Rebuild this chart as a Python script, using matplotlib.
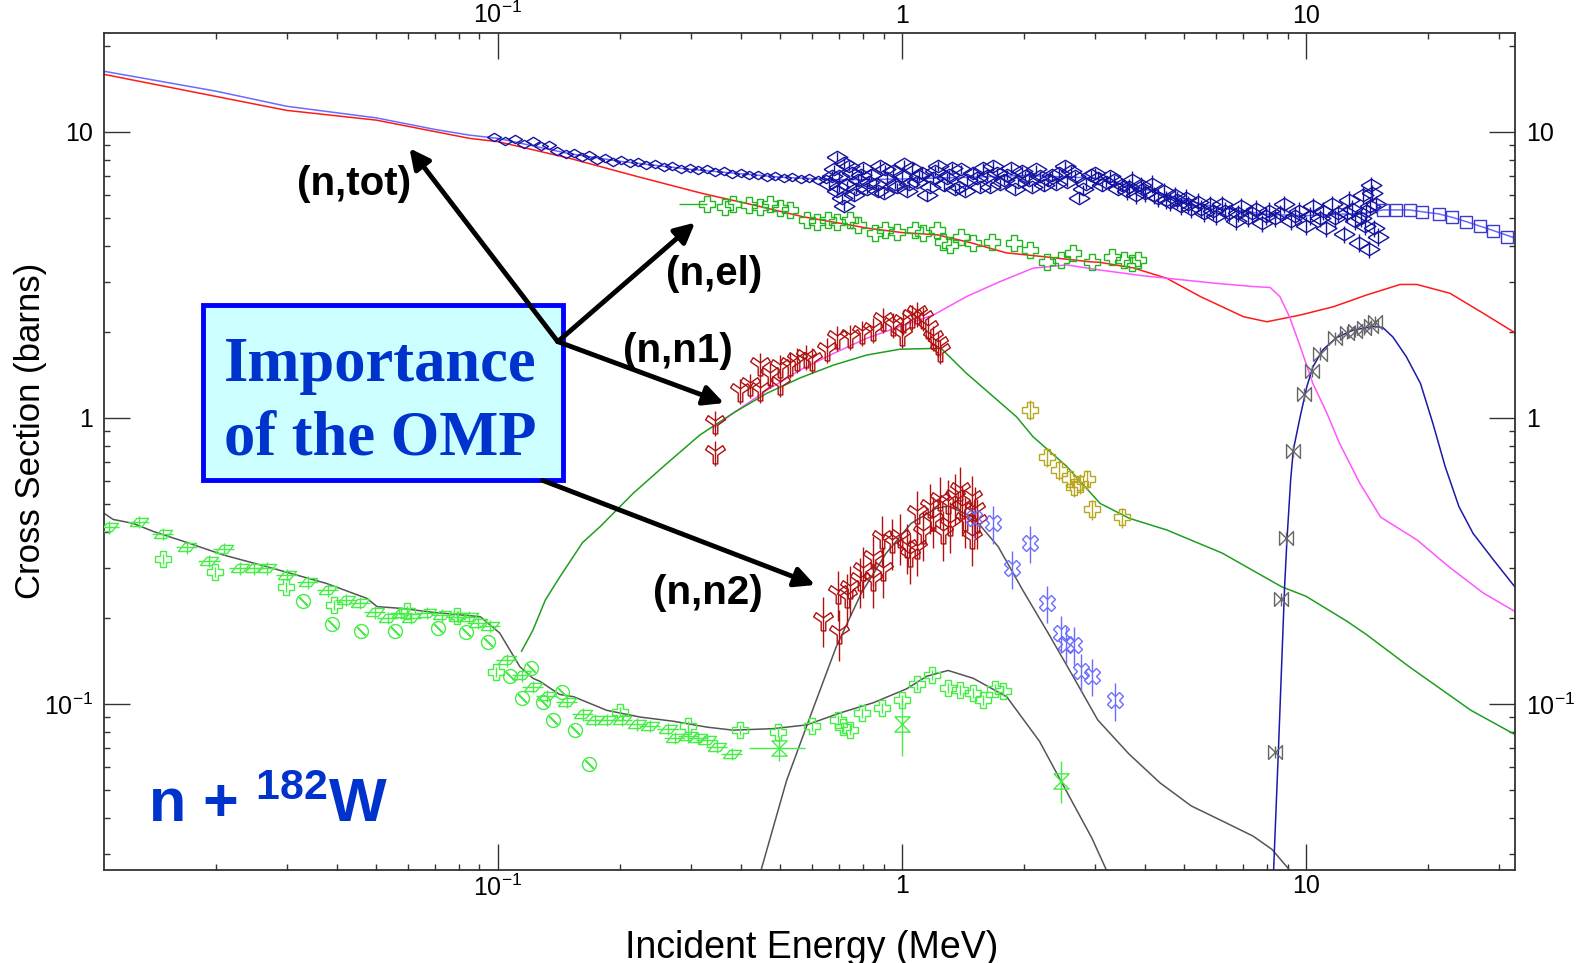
import sys
import numpy as np
import matplotlib
matplotlib.use("Agg")
import matplotlib.pyplot as plt
from matplotlib.patches import Rectangle
from matplotlib.ticker import FixedLocator, LogLocator, NullFormatter, FuncFormatter

# *** Data: energies in MeV, cross sections in barns ***

# evaluated curves
tot_line_e = [0.0106, 0.02, 0.03, 0.05, 0.07, 0.085, 0.1, 0.15, 0.2, 0.3, 0.5, 0.7, 1.0, 1.5, 2.0, 3.0,
              4.0, 5.0, 6.0, 8.0, 10.0, 14.0, 15.5, 18.0, 19.4, 21.3, 23.0, 24.9, 26.9, 29.1, 33.0]
tot_line_xs = [16.3, 13.9, 12.3, 11.2, 10.2, 9.75, 9.5, 8.4, 7.9, 7.4, 6.95, 6.8, 6.85, 6.95, 7.05, 6.9,
               6.3, 5.8, 5.45, 5.15, 5.1, 5.2, 5.34, 5.34, 5.26, 5.17, 5.03, 4.86, 4.69, 4.52, 4.25]

el_line_e = [0.0106, 0.03, 0.05, 0.085, 0.1, 0.15, 0.22, 0.32, 0.43, 0.57, 0.83, 1.0, 1.22, 1.48, 1.81,
             2.26, 2.9, 3.09, 3.73, 4.52, 5.47, 7.0, 8.0, 9.67, 11.7, 14.1, 17.1, 18.8, 22.7, 27.5, 33.0]
el_line_xs = [15.9, 11.9, 11.0, 9.5, 9.25, 8.1, 7.0, 6.1, 5.55, 5.05, 4.6, 4.45, 4.37, 4.1, 3.78,
              3.66, 3.52, 3.50, 3.35, 3.08, 2.66, 2.26, 2.17, 2.29, 2.45, 2.69, 2.93, 2.93, 2.73, 2.32, 1.98]

n1_line_e = [0.344, 0.382, 0.463, 0.559, 0.676, 0.818, 0.989, 1.195, 1.446, 1.75, 2.11, 2.56, 3.09, 3.97,
             4.74, 5.94, 7.43, 8.15, 8.61, 9.1, 9.67, 10.4, 11.26, 12.1, 13.6, 15.3, 18.8, 22.7, 27.5, 33.0]
n1_line_xs = [0.93, 1.04, 1.25, 1.47, 1.68, 1.90, 2.09, 2.29, 2.66, 3.0, 3.34, 3.43, 3.29, 3.14,
              3.06, 2.96, 2.88, 2.86, 2.66, 2.26, 1.78, 1.32, 1.04, 0.816, 0.59, 0.45, 0.375, 0.30, 0.244, 0.21]

inl_line_e = [0.1144, 0.122, 0.131, 0.142, 0.162, 0.179, 0.216, 0.262, 0.316, 0.382, 0.463, 0.559, 0.676,
              0.818, 0.989, 1.195, 1.25, 1.446, 1.68, 1.92, 2.11, 2.56, 3.09, 3.65, 4.52, 6.2, 8.7, 10.0,
              12.6, 14.1, 18.0, 25.6, 33.0]
inl_line_xs = [0.153, 0.181, 0.231, 0.277, 0.367, 0.417, 0.545, 0.694, 0.872, 1.04, 1.22, 1.38, 1.53,
               1.66, 1.74, 1.75, 1.75, 1.43, 1.19, 1.01, 0.86, 0.676, 0.503, 0.446, 0.406, 0.337, 0.257, 0.238,
               0.195, 0.175, 0.135, 0.095, 0.078]

cap_line_e = [0.0106, 0.01115, 0.0125, 0.0141, 0.0167, 0.0209, 0.0268, 0.0376, 0.0474, 0.0502, 0.0574,
              0.0694, 0.0904, 0.101, 0.1133, 0.122, 0.127, 0.142, 0.154, 0.186, 0.225, 0.272, 0.329, 0.382,
              0.48, 0.581, 0.702, 0.849, 1.027, 1.151, 1.30, 1.50, 1.816, 2.19, 2.47, 2.95, 3.3]
cap_line_xs = [0.464, 0.442, 0.428, 0.40, 0.37, 0.332, 0.302, 0.264, 0.234, 0.219, 0.216,
               0.209, 0.202, 0.177, 0.135, 0.123, 0.12, 0.108, 0.106, 0.095, 0.090, 0.087, 0.083, 0.081,
               0.082, 0.0845, 0.093, 0.101, 0.113, 0.125, 0.131, 0.123, 0.106, 0.074, 0.054, 0.034, 0.024]

n2_line_e = [0.447, 0.518, 0.597, 0.688, 0.793, 0.914, 1.053, 1.214, 1.30, 1.50, 1.73, 1.99, 2.30, 2.65,
             3.05, 3.64, 4.35, 5.2, 6.2, 7.4, 8.24, 9.16]
n2_line_xs = [0.026, 0.054, 0.093, 0.159, 0.244, 0.337, 0.428, 0.483, 0.492, 0.45, 0.355, 0.25, 0.177, 0.125,
              0.088, 0.067, 0.053, 0.044, 0.039, 0.0345, 0.031, 0.026]

n2n_line_e = [8.31, 8.55, 8.85, 8.97, 9.16, 9.3, 9.67, 10.05, 10.4, 11.0, 11.9, 13.1, 14.7, 15.5, 16.4,
              17.7, 19.2, 20.6, 22.1, 23.9, 25.9, 29.1, 33.0]
n2n_line_xs = [0.026, 0.071, 0.257, 0.375, 0.607, 0.773, 1.01, 1.29, 1.51, 1.73, 1.91, 2.03, 2.09, 2.07, 1.92,
               1.64, 1.32, 0.958, 0.676, 0.49, 0.395, 0.319, 0.255]

# experimental total cross section
tot_a_e = [0.098, 0.104, 0.110, 0.116, 0.122, 0.128, 0.134, 0.140, 0.147, 0.154, 0.161, 0.168, 0.176, 0.184,
           0.193, 0.202, 0.212, 0.222, 0.233, 0.245, 0.257, 0.270, 0.284, 0.298, 0.313, 0.329, 0.345, 0.362,
           0.380, 0.399, 0.419, 0.440, 0.462, 0.485, 0.509, 0.534, 0.561, 0.589, 0.618, 0.649]
tot_a_xs = [9.6, 9.3, 9.45, 9.1, 9.3, 8.95, 9.0, 8.6, 8.4, 8.45, 8.2, 8.3, 8.0, 8.1,
            7.85, 7.95, 7.8, 7.85, 7.65, 7.75, 7.55, 7.6, 7.45, 7.5, 7.35, 7.4, 7.25, 7.3,
            7.15, 7.2, 7.05, 7.1, 6.95, 7.0, 6.9, 6.95, 6.85, 6.9, 6.8, 6.85]

tot_b_e = [0.66, 0.68, 0.69, 0.69, 0.70, 0.71, 0.72, 0.72, 0.73, 0.75, 0.76, 0.78, 0.80, 0.82, 0.84, 0.86,
           0.88, 0.90, 0.92, 0.95, 0.97, 1.00, 1.03, 1.06, 1.09, 1.12, 1.15, 1.19, 1.23, 1.27, 1.31, 1.35,
           1.38, 1.40, 1.45, 1.50, 1.56, 1.62, 1.68, 1.75, 1.82, 1.90, 1.98, 2.06, 2.15, 2.25, 2.35, 2.45,
           2.53, 2.56, 2.68, 2.74, 2.80, 2.93, 3.05, 3.2, 3.35, 3.5,
           0.67, 0.70, 0.74, 0.77, 0.79, 0.83, 0.87, 0.91, 0.96, 1.01, 1.04, 1.10, 1.17, 1.21, 1.29, 1.33,
           1.43, 1.53, 1.59, 1.65, 1.72, 1.79, 1.86, 1.94, 2.02, 2.10, 2.20, 2.30, 2.40, 2.62, 2.86, 3.0,
           3.12, 3.28, 3.42]
tot_b_xs = [6.6, 7.4, 6.2, 8.2, 7.0, 5.9, 7.8, 5.5, 6.5, 7.2, 6.0, 6.8, 7.5, 6.3, 7.1, 6.6,
            7.6, 6.1, 6.9, 7.3, 6.4, 7.0, 6.2, 7.5, 6.7, 7.2, 6.0, 6.9, 7.6, 6.5, 7.1, 6.3,
            6.4, 7.4, 6.8, 7.2, 6.4, 7.0, 7.6, 6.6, 7.1, 6.3, 7.3, 6.8, 7.4, 6.5, 7.1, 7.2,
            7.6, 6.7, 7.0, 5.9, 6.3, 7.1, 6.9, 6.7, 6.8, 6.5,
            7.0, 6.4, 7.6, 6.3, 7.1, 6.7, 6.2, 7.4, 6.6, 7.7, 6.6, 7.0, 6.4, 7.3, 6.9, 7.5,
            6.2, 6.9, 7.5, 6.4, 7.2, 6.8, 7.5, 6.7, 7.0, 6.4, 7.0, 6.8, 6.6, 7.3, 6.6, 7.2,
            6.5, 7.0, 6.3]

tot_c_e = [3.6, 3.7, 3.8, 3.9, 4.0, 4.15, 4.3, 4.45, 4.6, 4.75, 4.9, 5.05, 5.2, 5.4, 5.6, 5.8, 6.0, 6.2,
           6.45, 6.7, 6.9, 7.2, 7.5, 7.8, 8.1, 8.4, 8.8, 9.2, 9.6, 10.0, 10.4, 10.8, 11.2, 11.6, 12.0, 12.4,
           12.8, 13.2, 13.5, 13.8, 14.1, 14.3, 14.5, 14.6, 14.7, 14.9, 15.1,
           3.65, 3.95, 4.2, 4.5, 4.8, 5.1, 5.5, 5.9, 6.3, 6.8, 7.35, 7.95, 8.6, 9.4, 10.2, 11.0, 11.8,
           12.6, 13.0, 13.65, 14.0, 14.4]
tot_c_xs = [6.2, 6.8, 6.0, 6.5, 6.1, 6.6, 5.9, 6.2, 5.7, 6.0, 5.5, 5.9, 5.4, 5.7, 5.2, 5.6, 5.1, 5.6,
            5.2, 4.9, 5.5, 5.0, 5.4, 4.8, 5.3, 5.0, 5.6, 4.9, 5.3, 4.7, 5.5, 5.0, 4.6, 5.6, 5.2, 4.4,
            5.8, 4.9, 4.1, 6.0, 5.3, 3.9, 6.5, 6.1, 4.6, 5.6, 4.3,
            6.4, 6.3, 6.0, 5.8, 5.8, 5.6, 5.4, 5.3, 5.3, 5.2, 5.2, 5.1, 5.2, 5.1, 5.1, 5.3, 5.0,
            5.2, 5.4, 5.0, 4.7, 5.5]

tot_d_e = [15.5, 16.7, 18.05, 19.4, 21.3, 23.0, 24.9, 26.9, 29.1, 31.5]
tot_d_xs = [5.34, 5.34, 5.34, 5.26, 5.17, 5.03, 4.86, 4.69, 4.52, 4.30]

# experimental elastic
el_e = [0.33, 0.365, 0.382, 0.417, 0.445, 0.47, 0.50, 0.528, 0.581, 0.615, 0.657, 0.689, 0.744, 0.78,
        0.858, 0.908, 0.97, 1.077, 1.13, 1.22, 1.266, 1.314, 1.40, 1.50, 1.67, 1.89, 2.07, 2.29, 2.47,
        2.65, 2.96, 3.31, 3.54, 3.7, 3.83]
el_xs = [5.6, 5.48, 5.62, 5.55, 5.48, 5.58, 5.41, 5.34, 4.93, 4.86, 4.93, 4.86, 4.93, 4.73,
         4.42, 4.54, 4.48, 4.54, 4.42, 4.54, 4.14, 4.03, 4.30, 4.08, 4.14, 4.08, 3.87, 3.52, 3.57,
         3.76, 3.52, 3.66, 3.57, 3.47, 3.57]

# experimental inelastic to first level
n1_e = [0.344, 0.344, 0.397, 0.42, 0.445, 0.445, 0.47, 0.50, 0.50, 0.528, 0.549, 0.58, 0.60, 0.651,
        0.689, 0.744, 0.795, 0.849, 0.899, 0.952, 0.998, 1.007, 1.06, 1.087, 1.13, 1.16, 1.195, 1.23, 1.24]
n1_xs = [0.958, 0.753, 1.24, 1.30, 1.25, 1.53, 1.41, 1.51, 1.32, 1.53, 1.60, 1.64, 1.60, 1.73,
         1.90, 1.92, 1.98, 2.03, 2.20, 2.11, 1.95, 2.17, 2.26, 2.32, 2.23, 2.06, 1.90, 1.82, 1.71]

# experimental inelastic to second level
n2_e = [0.636, 0.70, 0.694, 0.73, 0.744, 0.787, 0.80, 0.846, 0.846, 0.899, 0.891, 0.943, 0.989, 1.027,
        1.047, 1.087, 1.087, 1.13, 1.173, 1.195, 1.24, 1.265, 1.30, 1.314, 1.35, 1.39, 1.405, 1.43, 1.49,
        1.49, 1.516, 1.53]
n2_xs = [0.197, 0.177, 0.244, 0.237, 0.254, 0.271, 0.294, 0.271, 0.323, 0.294, 0.379, 0.369, 0.384, 0.355,
         0.328, 0.35, 0.464, 0.395, 0.49, 0.44, 0.517, 0.395, 0.504, 0.423, 0.53, 0.56, 0.483, 0.44, 0.524,
         0.379, 0.477, 0.434]

n2b_e = [1.503, 1.68, 2.07, 1.87, 2.28, 2.47, 2.54, 2.67, 2.77, 2.95, 3.37]
n2b_xs = [0.446, 0.428, 0.365, 0.298, 0.225, 0.177, 0.162, 0.161, 0.13, 0.125, 0.103]

n1b_e = [2.07, 2.28, 2.45, 2.6, 2.66, 2.76, 2.87, 2.95, 3.5]
n1b_xs = [1.07, 0.73, 0.66, 0.61, 0.575, 0.59, 0.61, 0.48, 0.45]

# experimental (n,2n)
n2n_e = [8.4, 8.66, 8.92, 9.3, 9.87, 10.34, 10.8, 11.8, 12.6, 13.2, 13.9, 14.5, 14.8]
n2n_xs = [0.068, 0.232, 0.379, 0.767, 1.21, 1.46, 1.68, 1.90, 1.99, 2.02, 2.06, 2.10, 2.17]

# experimental capture, several data sets
cap_par_e = [0.0109, 0.0129, 0.0148, 0.0170, 0.0193, 0.0210, 0.0230, 0.0249, 0.0268, 0.0300, 0.0338,
             0.0379, 0.0421, 0.0455, 0.0495, 0.0534, 0.0576, 0.0608, 0.0667, 0.0727, 0.0797, 0.085, 0.0892,
             0.0955, 0.105, 0.115, 0.122, 0.132, 0.148, 0.162, 0.174, 0.186, 0.203, 0.221, 0.238, 0.264,
             0.274, 0.296, 0.313, 0.329, 0.348, 0.379]
cap_par_xs = [0.415, 0.433, 0.393, 0.353, 0.316, 0.348, 0.298, 0.298, 0.298, 0.283, 0.266,
              0.250, 0.231, 0.226, 0.209, 0.200, 0.208, 0.200, 0.208, 0.204, 0.202, 0.202, 0.192,
              0.188, 0.142, 0.126, 0.115, 0.107, 0.102, 0.092, 0.088, 0.088, 0.088, 0.085, 0.084, 0.082,
              0.076, 0.077, 0.076, 0.075, 0.071, 0.067]

cap_plus_e = [0.0148, 0.0199, 0.0298, 0.0393, 0.0594, 0.0790, 0.099, 0.20, 0.296, 0.397, 0.494, 0.60,
              0.695, 0.716, 0.744, 0.795, 0.891, 0.998, 1.087, 1.185, 1.30, 1.39, 1.50, 1.59, 1.70, 1.78]
cap_plus_xs = [0.321, 0.290, 0.256, 0.222, 0.211, 0.203, 0.129, 0.094, 0.084, 0.081, 0.080, 0.084,
               0.088, 0.083, 0.081, 0.093, 0.097, 0.103, 0.117, 0.126, 0.114, 0.112, 0.109, 0.103, 0.113, 0.111]

cap_circ_e = [0.0329, 0.0389, 0.0459, 0.0557, 0.0709, 0.0835, 0.0945, 0.107, 0.115, 0.121, 0.1295,
              0.137, 0.144, 0.155, 0.168]
cap_circ_xs = [0.229, 0.191, 0.180, 0.180, 0.184, 0.178, 0.165, 0.125, 0.105, 0.134, 0.102,
               0.088, 0.11, 0.081, 0.0615]

cap_hg_e = [0.497, 0.998, 2.47]
cap_hg_xs = [0.070, 0.085, 0.054]
cap_hg_de = [0.078, 0.0, 0.0]
cap_hg_dxs = [0.007, 0.019, 0.009]

# *** Begin Functions ***

def tick_label(value, pos):
    """
    formats the decade labels like the original plot
    """
    if np.isclose(value, 0.1):
        return r"10$^{\mathregular{-1}}$"
    if np.isclose(value, 1):
        return "1"
    if np.isclose(value, 10):
        return "10"
    return ""


def draw_points(ax, e, xs, marker, color, ms, rel_err=0.0, rel_xerr=0.0, lw=1.0):
    """
    draws one experimental data set as open markers with error bars
    """
    e = np.array(e)
    xs = np.array(xs)
    yerr = rel_err * xs if rel_err > 0 else None
    xerr = rel_xerr * e if rel_xerr > 0 else None
    if yerr is not None or xerr is not None:
        ax.errorbar(e, xs, yerr=yerr, xerr=xerr, fmt="none", ecolor=color, elinewidth=1.0, capsize=0, zorder=3)
    ax.plot(e, xs, linestyle="none", marker=marker, ms=ms, mfc="none", mec=color, mew=lw, zorder=4)

# *** End Functions ***


def main():
    plt.rcParams["font.family"] = ["Liberation Sans", "DejaVu Sans"]
    plt.rcParams["mathtext.fontset"] = "custom"
    plt.rcParams["mathtext.rm"] = "Liberation Sans"
    plt.rcParams["mathtext.bf"] = "Liberation Sans:bold"
    plt.rcParams["mathtext.it"] = "Liberation Sans:italic"

    # custom marker shapes
    wide_diamond = [(-1, 0), (0, 0.6), (1, 0), (0, -0.6), (-1, 0)]
    fat_y = [(-0.22, -1), (0.22, -1), (0.22, -0.15), (0.95, 0.35), (0.7, 0.75), (0, 0.25),
             (-0.7, 0.75), (-0.95, 0.35), (-0.22, -0.15), (-0.22, -1)]
    bowtie = [(-1, -1), (-1, 1), (1, -1), (1, 1), (-1, -1)]
    hourglass = [(-1, 1), (1, 1), (-1, -1), (1, -1), (-1, 1)]
    parallelogram = [(-1, -0.45), (0.3, -0.45), (1, 0.45), (-0.3, 0.45), (-1, -0.45)]

    fig = plt.figure(figsize=(15.76, 9.63), dpi=100)
    ax = fig.add_axes([0.0663, 0.0966, 0.8950, 0.8695])
    ax.set_xscale("log")
    ax.set_yscale("log")

    # evaluated curves
    ax.plot(tot_line_e, tot_line_xs, color="#6a6aff", lw=1.1, zorder=2)
    ax.plot(el_line_e, el_line_xs, color="#ff1a1a", lw=1.1, zorder=2)
    ax.plot(n1_line_e, n1_line_xs, color="#ff55ff", lw=1.1, zorder=2)
    ax.plot(inl_line_e, inl_line_xs, color="#1f9e1f", lw=1.1, zorder=2)
    ax.plot(cap_line_e, cap_line_xs, color="#555555", lw=1.1, zorder=2)
    ax.plot(n2_line_e, n2_line_xs, color="#555555", lw=1.1, zorder=2)
    ax.plot(n2n_line_e, n2n_line_xs, color="#1a1aaa", lw=1.1, zorder=2)

    # total
    draw_points(ax, tot_a_e, tot_a_xs, wide_diamond, "#1414a0", 10)
    draw_points(ax, tot_b_e, tot_b_xs, wide_diamond, "#1414a0", 15, rel_err=0.04)
    draw_points(ax, tot_c_e, tot_c_xs, wide_diamond, "#1414a0", 15, rel_err=0.07)
    draw_points(ax, tot_d_e, tot_d_xs, "s", "#3a3ad0", 9)

    # elastic and inelastic
    draw_points(ax, el_e, el_xs, "P", "#22b522", 12)
    ax.errorbar([el_e[0]], [el_xs[0]], xerr=[[0.05], [0.0]], fmt="none", ecolor="#22b522", elinewidth=1.0)
    draw_points(ax, n1_e, n1_xs, fat_y, "#b01010", 15, rel_err=0.1)
    draw_points(ax, n2_e, n2_xs, fat_y, "#b01010", 15, rel_err=0.2)
    draw_points(ax, n2b_e, n2b_xs, "X", "#6c6cff", 12, rel_err=0.15)
    draw_points(ax, n1b_e, n1b_xs, "P", "#b8a820", 12, rel_err=0.08)
    draw_points(ax, n2n_e, n2n_xs, bowtie, "#666666", 10, rel_err=0.05)

    # capture
    cap_col = "#44ee44"
    draw_points(ax, cap_par_e, cap_par_xs, parallelogram, cap_col, 13, rel_err=0.05, rel_xerr=0.06)
    draw_points(ax, cap_plus_e, cap_plus_xs, "P", cap_col, 11, rel_err=0.04)
    draw_points(ax, cap_circ_e, cap_circ_xs, "o", cap_col, 10)
    ax.plot(cap_circ_e, cap_circ_xs, linestyle="none", marker=(2, 2, 45), ms=9, mec=cap_col, mew=1.0, zorder=4)
    ax.errorbar(cap_hg_e, cap_hg_xs, xerr=cap_hg_de, yerr=cap_hg_dxs, fmt="none", ecolor=cap_col,
                elinewidth=1.0, capsize=0, zorder=3)
    draw_points(ax, cap_hg_e, cap_hg_xs, hourglass, cap_col, 11)

    # axes, ticks
    ax.set_xlim(0.01062, 32.9)
    ax.set_ylim(0.02628, 22.25)
    for axis in [ax.xaxis, ax.yaxis]:
        axis.set_major_locator(FixedLocator([0.1, 1, 10]))
        axis.set_major_formatter(FuncFormatter(tick_label))
        axis.set_minor_locator(LogLocator(base=10, subs=np.arange(2, 10)))
        axis.set_minor_formatter(NullFormatter())
    ax.tick_params(which="both", direction="in", top=True, right=True, labeltop=True, labelright=True,
                   colors="#333333", labelcolor="black")
    ax.tick_params(which="major", length=19, width=1.0, labelsize=18)
    ax.tick_params(axis="x", which="major", pad=3)
    ax.tick_params(axis="y", which="major", pad=8)
    ax.tick_params(which="minor", length=4.5, width=1.0)
    for sp in ax.spines.values():
        sp.set_color("#333333")
        sp.set_linewidth(1.3)

    fig.text(0.515, 0.0054, "Incident Energy (MeV)", ha="center", va="baseline", size=27)
    fig.text(0.0195, 0.553, "Cross Section (barns)", ha="center", va="center", rotation=90, size=25)

    # annotation box
    ax.add_patch(Rectangle((0.0698, 0.4653), 0.2551, 0.2089, transform=ax.transAxes, facecolor="#ccffff",
                           edgecolor="#0000ff", lw=3.5, zorder=6))
    ax.text(0.1956, 0.558, "Importance\nof the OMP", transform=ax.transAxes, ha="center", va="center",
            multialignment="left", family="Liberation Serif", weight="bold", size=45, color="#0033cc",
            linespacing=1.35, zorder=7)

    # arrows from the box to the reactions
    arrow = dict(arrowstyle="-|>", lw=3.5, color="black", mutation_scale=30, shrinkA=0, shrinkB=0)
    for tip in [(0.0604, 8.77), (0.3074, 4.82), (0.3625, 1.128)]:
        ax.annotate("", xy=tip, xytext=(0.1406, 1.849), arrowprops=arrow, zorder=8)
    ax.annotate("", xy=(0.609, 0.2607), xytext=(0.129, 0.605), arrowprops=arrow, zorder=8)

    # reaction labels
    for lab, pos in [("(n,tot)", (0.0319, 6.58)), ("(n,el)", (0.261, 3.18)),
                     ("(n,n1)", (0.204, 1.719)), ("(n,n2)", (0.2423, 0.2446))]:
        ax.text(pos[0], pos[1], lab, ha="left", va="center", weight="bold", size=29, zorder=8)

    ax.text(0.0308, 0.0573, r"n + $^{\mathbf{182}}$W", transform=ax.transAxes, ha="left", va="baseline",
            weight="bold", size=44, color="#0033cc", zorder=8)

    fig.savefig("out.png", dpi=100, facecolor="white")
    return True


if __name__ == "__main__":
    sys.exit(0 if main() else 1)
